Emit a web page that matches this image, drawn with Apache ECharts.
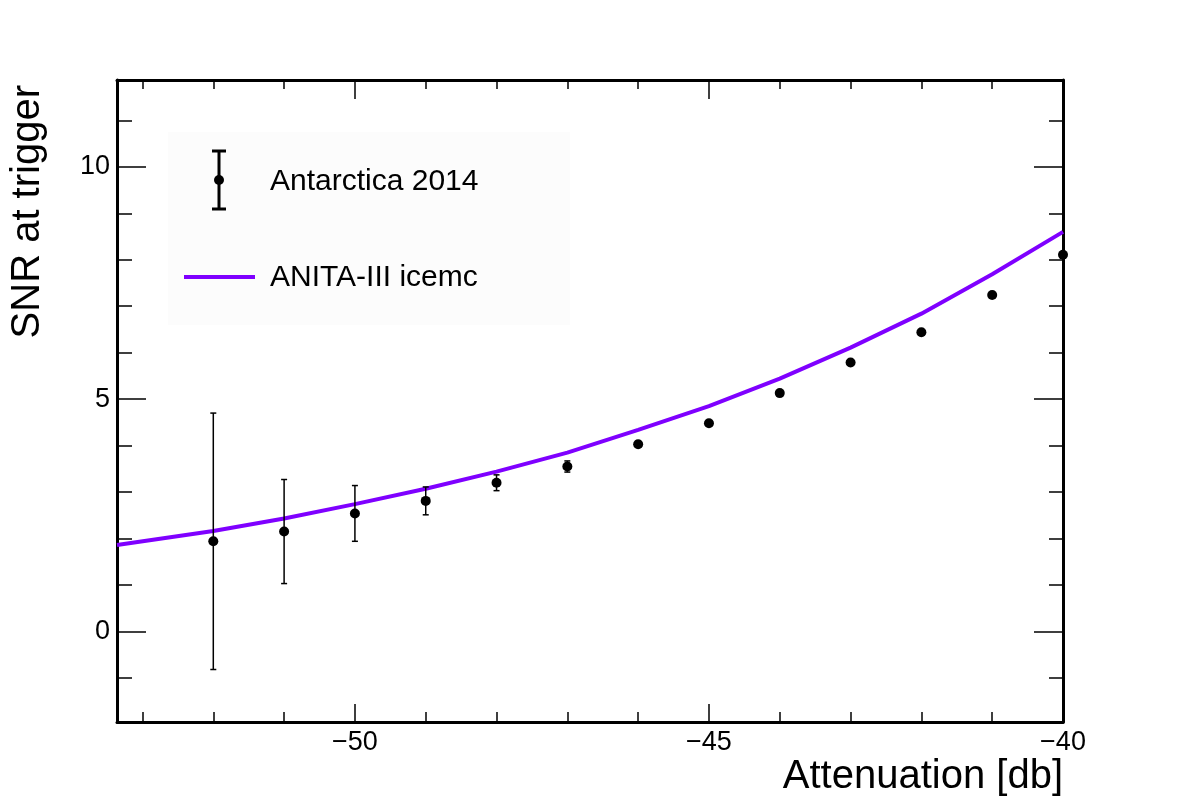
<!DOCTYPE html>
<html>
<head>
<meta charset="utf-8">
<script src="https://cdn.jsdelivr.net/npm/echarts@6/dist/echarts.min.js"></script>
<style>
  html, body { margin: 0; padding: 0; background: #fff; }
  #chart { width: 1182px; height: 805px; }
</style>
</head>
<body>
<div id="chart"></div>
<script>
// measured points (Antarctica 2014)
const attenuation = [-52, -51, -50, -49, -48, -47, -46, -45, -44, -43, -42, -41, -40]
const snrData = [1.94, 2.15, 2.54, 2.81, 3.20, 3.55, 4.03, 4.48, 5.13, 5.79, 6.44, 7.24, 8.11]
const snrErr = [2.76, 1.12, 0.60, 0.30, 0.17, 0.12, 0.06, 0.05, 0.05, 0.04, 0.04, 0.03, 0.03]

// simulation curve (ANITA-III icemc)
const simX = [-53.36, -52, -51, -50, -49, -48, -47, -46, -45, -44, -43, -42, -41, -40]
const simSnr = [1.86, 2.16, 2.43, 2.74, 3.07, 3.44, 3.85, 4.34, 4.85, 5.44, 6.11, 6.84, 7.69, 8.60]

// axis ticks
const xMajor = [-50, -45, -40]
const xMinor = [-53, -52, -51, -49, -48, -47, -46, -44, -43, -42, -41]
const yMajor = [0, 5, 10]
const yMinor = [-1, 1, 2, 3, 4, 6, 7, 8, 9, 11]

const X_MIN = -53.36, X_MAX = -40
const Y_MIN = -1.95, Y_MAX = 11.87
const FONT = '"Liberation Sans", Arial, Helvetica, sans-serif'

let chart = echarts.init(document.getElementById('chart'))

// 一根轴只负责一种刻度，主刻度和副刻度分开叠放
function makeAxis(pos, min, max, ticks, len, opts) {
    return Object.assign({
        type: 'value',
        position: pos,
        min: min,
        max: max,
        scale: true,
        splitLine: { show: false },
        axisLine: { show: false, onZero: false },
        axisTick: {
            inside: true,
            length: len,
            customValues: ticks,
            lineStyle: { color: '#000', width: 1.5 }
        },
        axisLabel: { show: false }
    }, opts || {})
}

const frameLine = { show: true, onZero: false, lineStyle: { color: '#000', width: 3 } }
const minusFmt = function (v) { return String(v).replace('-', '\u2212') }
const tickFont = {
    show: true,
    formatter: minusFmt,
    color: '#000',
    fontSize: 27,
    fontFamily: FONT,
    margin: 7
}

let xAxes = [
    makeAxis('bottom', X_MIN, X_MAX, xMajor, 18, {
        axisLine: frameLine,
        axisLabel: Object.assign({ customValues: xMajor }, tickFont)
    }),
    makeAxis('bottom', X_MIN, X_MAX, xMinor, 10),
    makeAxis('top', X_MIN, X_MAX, xMajor, 19, { axisLine: frameLine }),
    makeAxis('top', X_MIN, X_MAX, xMinor, 9)
]

let yAxes = [
    makeAxis('left', Y_MIN, Y_MAX, yMajor, 29, {
        axisLine: frameLine,
        axisLabel: Object.assign({ customValues: yMajor }, tickFont)
    }),
    makeAxis('left', Y_MIN, Y_MAX, yMinor, 15),
    makeAxis('right', Y_MIN, Y_MAX, yMajor, 29, { axisLine: frameLine }),
    makeAxis('right', Y_MIN, Y_MAX, yMinor, 14)
]

let pts = attenuation.map(function (x, i) { return [x, snrData[i], snrErr[i]] })
let sim = simX.map(function (x, i) { return [x, simSnr[i]] })

let option = {
    animation: false,
    backgroundColor: '#fff',
    grid: { left: 117, right: 119, top: 80, bottom: 83, containLabel: false },
    xAxis: xAxes,
    yAxis: yAxes,
    graphic: [
        // 图例背景
        { type: 'rect', shape: { x: 168, y: 132, width: 402, height: 193 }, style: { fill: '#fcfcfc' }, z: 1 },
        // 误差棒图标
        { type: 'line', shape: { x1: 219, y1: 151, x2: 219, y2: 209 }, style: { stroke: '#000', lineWidth: 3 }, z: 5 },
        { type: 'line', shape: { x1: 212, y1: 151, x2: 226, y2: 151 }, style: { stroke: '#000', lineWidth: 3 }, z: 5 },
        { type: 'line', shape: { x1: 212, y1: 209, x2: 226, y2: 209 }, style: { stroke: '#000', lineWidth: 3 }, z: 5 },
        { type: 'circle', shape: { cx: 219, cy: 180, r: 5 }, style: { fill: '#000' }, z: 5 },
        { type: 'text', x: 270, y: 182, style: { text: 'Antarctica 2014', font: '30px ' + FONT, fill: '#000', verticalAlign: 'middle' }, z: 5 },
        // 曲线图标
        { type: 'line', shape: { x1: 184, y1: 277, x2: 255, y2: 277 }, style: { stroke: '#7f00ff', lineWidth: 4 }, z: 5 },
        { type: 'text', x: 270, y: 278, style: { text: 'ANITA-III icemc', font: '30px ' + FONT, fill: '#000', verticalAlign: 'middle' }, z: 5 },
        // 轴标题
        { type: 'text', x: 1063, y: 777, style: { text: 'Attenuation [db]', font: '40px ' + FONT, fill: '#000', align: 'right', verticalAlign: 'middle' }, z: 5 },
        { type: 'text', x: 28, y: 85, rotation: Math.PI / 2, style: { text: 'SNR at trigger', font: '40px ' + FONT, fill: '#000', align: 'right', verticalAlign: 'middle' }, z: 5 }
    ],
    series: [
        {
            name: 'ANITA-III icemc',
            type: 'line',
            data: sim,
            showSymbol: false,
            symbol: 'none',
            lineStyle: { color: '#7f00ff', width: 4 },
            z: 3
        },
        {
            name: 'error',
            type: 'custom',
            data: pts,
            clip: false,
            renderItem: function (params, api) {
                let x = api.value(0)
                let y = api.value(1)
                let e = api.value(2)
                let top = api.coord([x, y + e])
                let bot = api.coord([x, y - e])
                let style = { stroke: '#000', lineWidth: 1.5 }
                return {
                    type: 'group',
                    children: [
                        { type: 'line', shape: { x1: top[0], y1: top[1], x2: bot[0], y2: bot[1] }, style: style },
                        { type: 'line', shape: { x1: top[0] - 3, y1: top[1], x2: top[0] + 3, y2: top[1] }, style: style },
                        { type: 'line', shape: { x1: bot[0] - 3, y1: bot[1], x2: bot[0] + 3, y2: bot[1] }, style: style }
                    ]
                }
            },
            z: 4
        },
        {
            name: 'Antarctica 2014',
            type: 'scatter',
            data: pts,
            clip: false,
            symbol: 'circle',
            symbolSize: 10,
            itemStyle: { color: '#000', opacity: 1 },
            z: 5
        }
    ]
}

chart.setOption(option)
</script>
</body>
</html>
